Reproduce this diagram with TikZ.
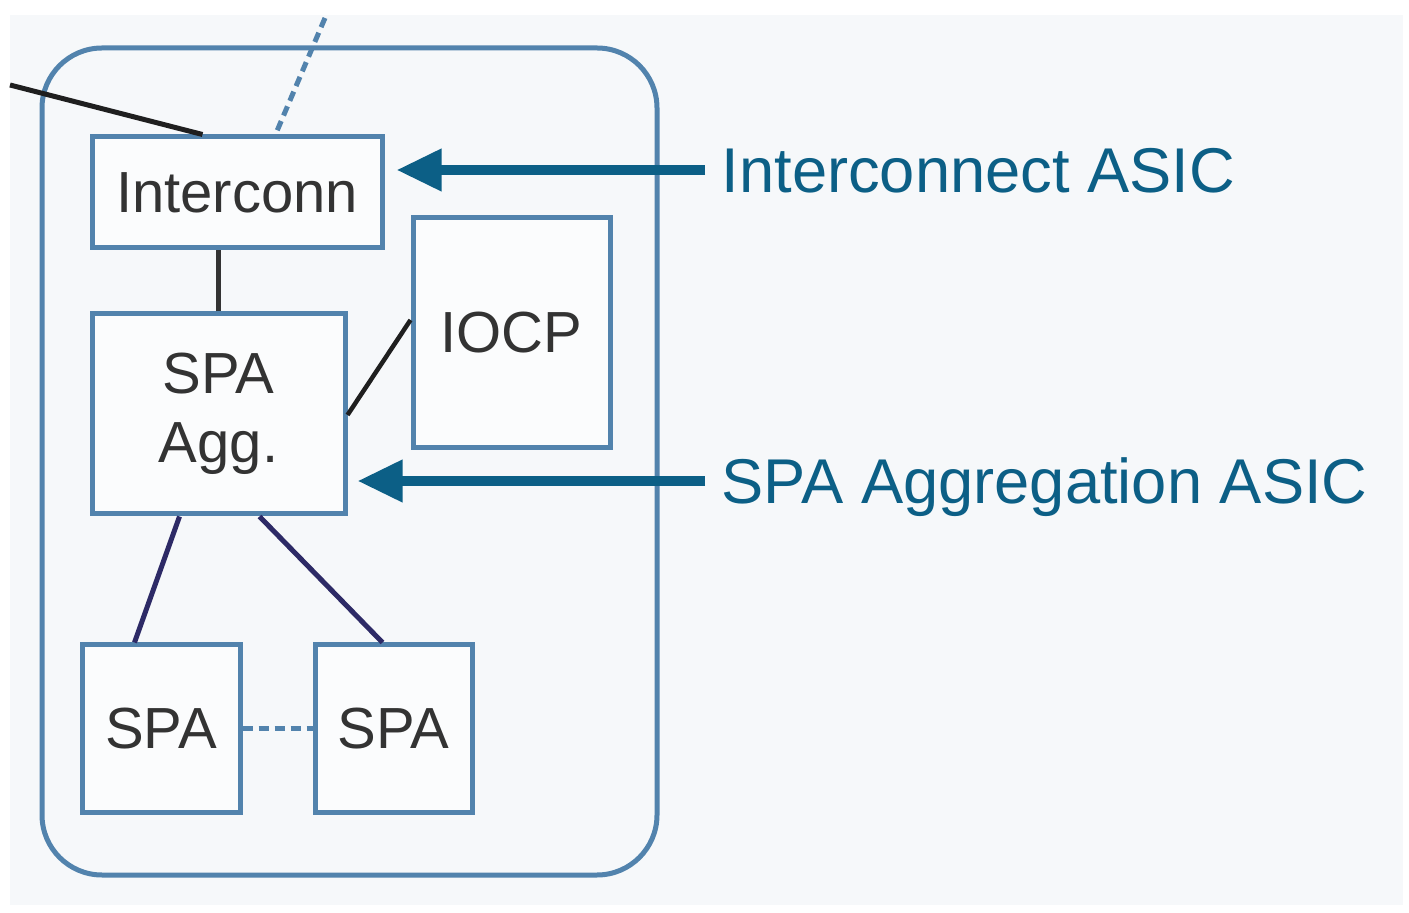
\documentclass[tikz,border=0pt]{standalone}
\usepackage{fontspec}
\usepackage{xcolor}
\usepackage{tikz}
\usetikzlibrary{arrows.meta, positioning, calc}
\setmainfont{Liberation Sans}

\definecolor{boxblue}{HTML}{5283AD}
\definecolor{asicteal}{HTML}{0C5F86}
\definecolor{linknavy}{HTML}{2D2A66}
\definecolor{bgpale}{HTML}{F6F8FA}
\definecolor{textgray}{HTML}{333333}

\tikzset{
  block/.style={draw=boxblue, line width=0.05cm, fill=white!60!bgpale, text=textgray,
    inner sep=0pt, align=center, font=\fontsize{16.5}{19.5}\selectfont},
  asiclabel/.style={text=asicteal, font=\fontsize{18}{20}\selectfont,
    inner xsep=0.16cm, inner ysep=0pt, text height=12.9pt, text depth=0pt},
  pointer/.style={draw=asicteal, line width=0.1cm, -{Triangle[length=0.45cm, width=0.4cm]}},
  linkdash/.style={draw=boxblue, line width=0.05cm, dash pattern=on 0.1cm off 0.06cm}
}

\begin{document}
\begin{tikzpicture}
            \useasboundingbox (0,0) rectangle (14.09,9.12);
            \fill[white] (0,0) rectangle (14.09,9.12);
            \fill[bgpale] (0.10,0.07) rectangle (14.03,8.97);
            % Line card outline
            \draw[boxblue, line width=0.05cm, rounded corners=0.6cm] (0.42,0.37) rectangle (6.57,8.64);
            % Define nodes for the chips
            \node[block, minimum width=2.90cm, minimum height=1.11cm] (interconn) at (2.37, 7.195) {Interconn};
            \node[block, minimum width=1.97cm, minimum height=2.30cm] (iocp) at (5.115, 5.79) {IOCP};
            \node[block, minimum width=2.53cm, minimum height=2.00cm] (agg) at (2.185, 4.98) {SPA\\Agg.};
            \node[block, minimum width=1.58cm, minimum height=1.67cm] (spa-1) at (1.61, 1.835) {SPA};
            \node[block, minimum width=1.57cm, minimum height=1.67cm] (spa-2) at (3.935, 1.835) {SPA};
            % Links leaving the card
            \coordinate (ext-left) at (0.10, 8.27);
            \coordinate (ext-top) at (3.25, 8.94);
            \draw[textgray!60!black, line width=0.05cm] (ext-left) -- ($(interconn.north west)+(1.13,0)$);
            \draw[linkdash] (ext-top) -- ($(interconn.north west)+(1.86,0)$);
            % Links inside the card
            \draw[textgray, line width=0.05cm] (agg.north) -- (agg.north |- interconn.south);
            \draw[textgray!60!black, line width=0.045cm] ($(agg.east)+(0,-0.01)$) -- ($(iocp.west)+(0,0.13)$);
            \draw[linknavy, line width=0.05cm] ($(agg.south west)+(0.90,0)$) -- ($(spa-1.north west)+(0.55,0)$);
            \draw[linknavy, line width=0.05cm] ($(agg.south west)+(1.70,0)$) -- ($(spa-2.north west)+(0.70,0)$);
            \draw[linkdash] (spa-1.east) -- (spa-2.west);
            % Output labels
            \node[asiclabel, anchor=west] (lbl-interconn) at (7.05, 7.42) {Interconnect ASIC};
            \node[asiclabel, anchor=west] (lbl-agg) at (7.05, 4.31) {SPA Aggregation ASIC};
            \draw[pointer, shorten >=0.12cm] (lbl-interconn.west) -- (lbl-interconn.west -| interconn.east);
            \draw[pointer, shorten >=0.10cm] (lbl-agg.west) -- (lbl-agg.west -| agg.east);
        \end{tikzpicture}
\end{document}
